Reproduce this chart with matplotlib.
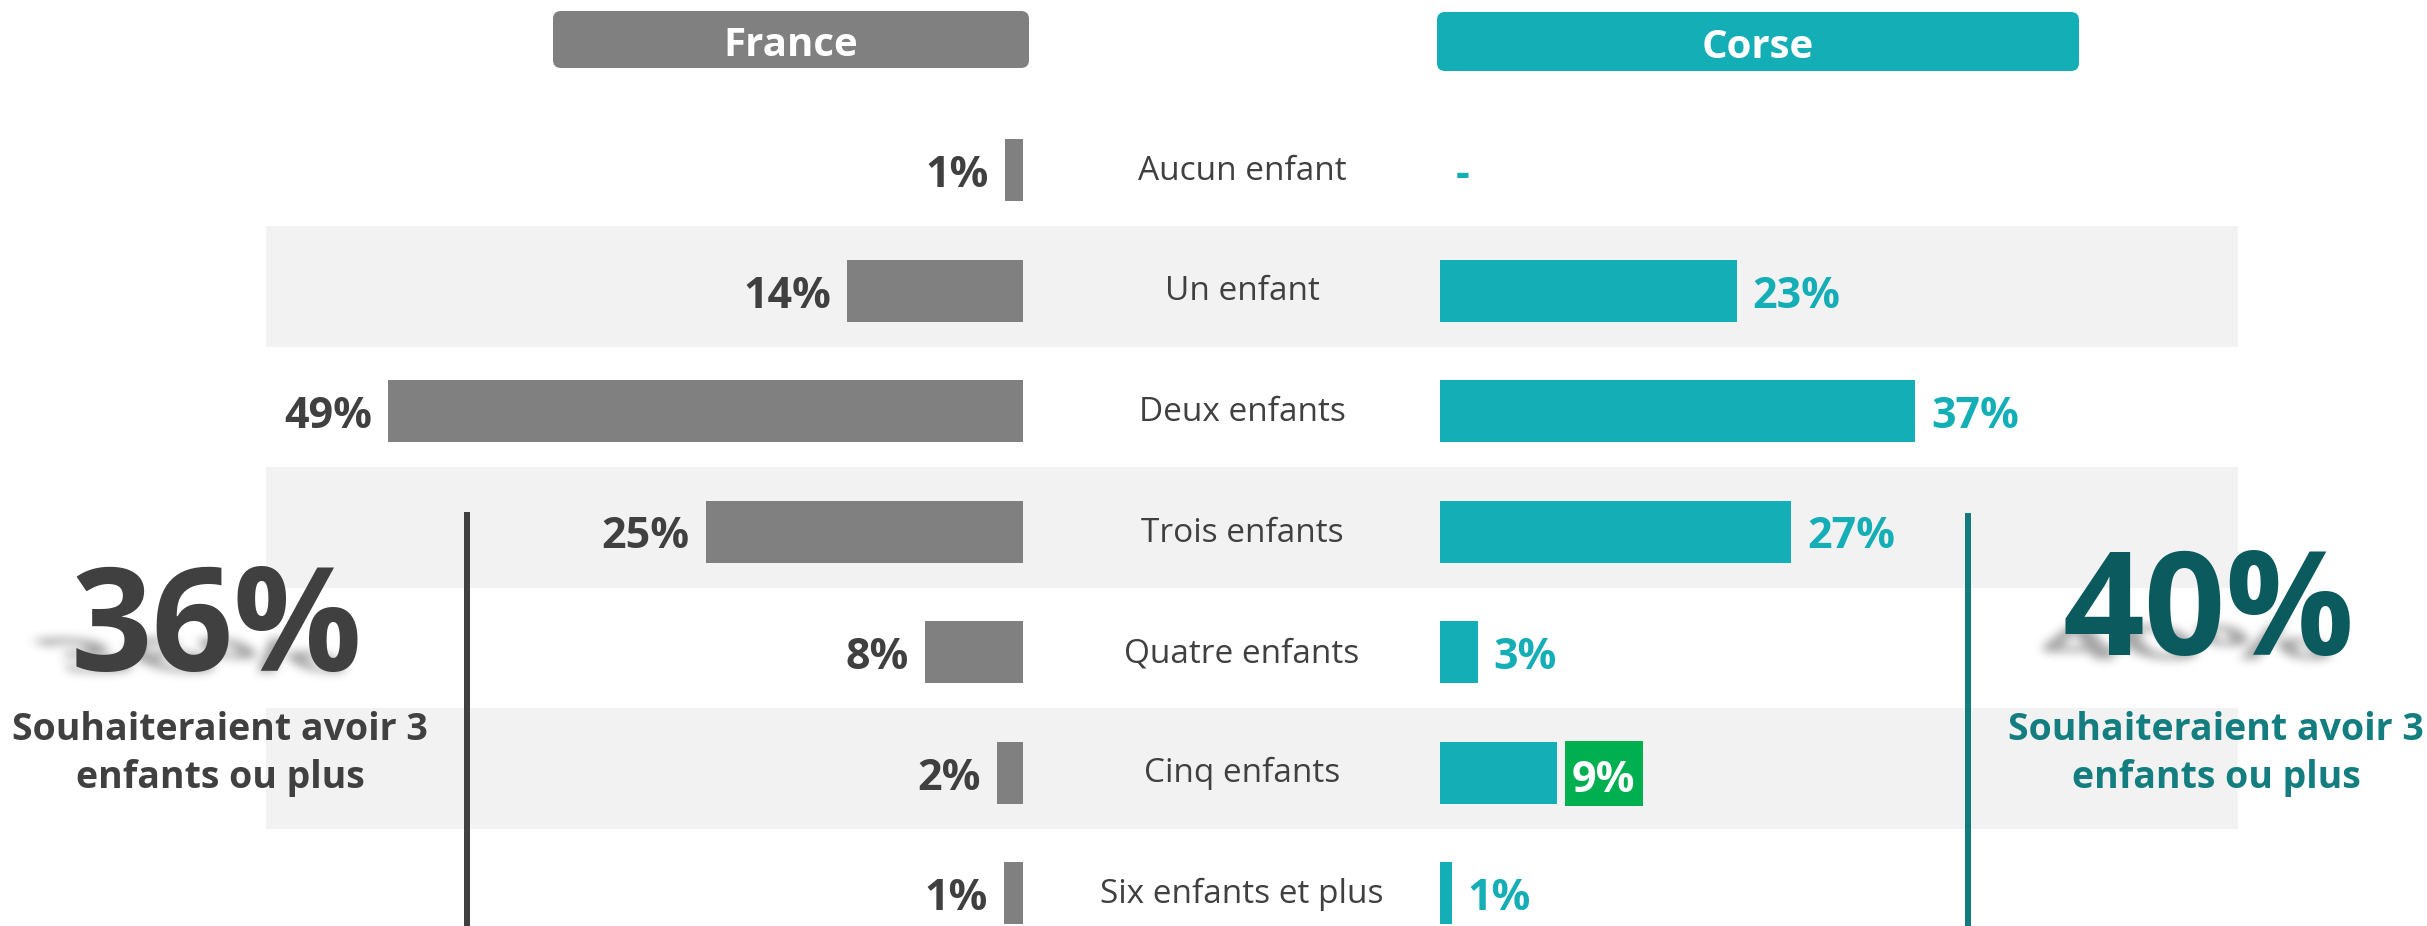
import numpy as np
import matplotlib
matplotlib.use("Agg")
import matplotlib.pyplot as plt
from matplotlib.figure import Figure
from matplotlib.backends.backend_agg import FigureCanvasAgg
from matplotlib.patches import Rectangle, FancyBboxPatch, PathPatch
from matplotlib.textpath import TextPath
from matplotlib.font_manager import FontProperties
from matplotlib.transforms import Affine2D

# ---------------- data ----------------
categories = ["Aucun enfant", "Un enfant", "Deux enfants", "Trois enfants",
              "Quatre enfants", "Cinq enfants", "Six enfants et plus"]
france_values = [1.4, 13.6, 49.0, 24.5, 7.6, 2.0, 1.5]
france_labels = ["1%", "14%", "49%", "25%", "8%", "2%", "1%"]
corse_values = [0.0, 22.9, 36.7, 27.1, 2.9, 9.0, 0.9]
corse_labels = ["-", "23%", "37%", "27%", "3%", "9%", "1%"]
highlight_index = 5
headers = ["France", "Corse"]
summary_france = "36%"
summary_corse = "40%"
summary_lines = ["Souhaiteraient avoir 3", "enfants ou plus"]

# ---------------- style ----------------
plt.rcParams["font.family"] = ["Open Sans", "DejaVu Sans"]
GREY_BAR = "#808080"
TEAL = "#14AEB6"
DARK = "#404040"
DARK_TEAL = "#0B5A5E"
MID_TEAL = "#137D80"
STRIPE = "#F2F2F2"
GREEN = "#00B050"

W, H = 2427, 926
ROW0, ROWH = 170.0, 120.5      # pixel centre of first row, row pitch
PXP = 12.95                    # pixels per percentage point
FR_X0, FR_ZERO = 266, 1023
CO_ZERO, CO_X1 = 1440, 2238
PT = 72 / 100.0

fig = plt.figure(figsize=(W / 100, H / 100), dpi=100)
fig.patch.set_facecolor("white")

bg = fig.add_axes([0, 0, 1, 1])
bg.axis("off")
bg.set_zorder(0)

ylim = ((H - ROW0) / ROWH, -ROW0 / ROWH)
ax_fr = fig.add_axes([FR_X0 / W, 0, (FR_ZERO - FR_X0) / W, 1])
ax_fr.set_xlim((FR_ZERO - FR_X0) / PXP, 0)
ax_co = fig.add_axes([CO_ZERO / W, 0, (CO_X1 - CO_ZERO) / W, 1])
ax_co.set_xlim(0, (CO_X1 - CO_ZERO) / PXP)
for ax in (ax_fr, ax_co):
    ax.set_ylim(*ylim)
    ax.axis("off")
    ax.patch.set_visible(False)
    ax.set_zorder(1)

# stripes
for i in range(len(categories)):
    if i % 2 == 1:
        yc = ROW0 + ROWH * i - 4
        bg.add_patch(Rectangle((FR_X0, yc - ROWH / 2), CO_X1 - FR_X0, ROWH,
                               facecolor=STRIPE, edgecolor="none", zorder=0))

ypos = list(range(len(categories)))
BAR_H = 62 / ROWH
ax_fr.barh(ypos, france_values, height=BAR_H, color=GREY_BAR)
ax_co.barh(ypos, corse_values, height=BAR_H, color=TEAL)

for i, (v, lab) in enumerate(zip(france_values, france_labels)):
    ax_fr.annotate(lab, xy=(v, i), xytext=(-16 * PT, -17 * PT), textcoords="offset points",
                   ha="right", va="baseline", fontsize=31, fontweight="bold", color=DARK)

for i, (v, lab) in enumerate(zip(corse_values, corse_labels)):
    if i == highlight_index:
        x0 = v + 8 / PXP
        bw = 78 / PXP
        ax_co.add_patch(Rectangle((x0, i + (1 - 32.5) / ROWH), bw, 65 / ROWH,
                                  facecolor=GREEN, edgecolor="none", zorder=3))
        ax_co.annotate(lab, xy=(x0 + bw / 2, i), xytext=(0, -19.5 * PT), textcoords="offset points",
                       ha="center", va="baseline", fontsize=31, fontweight="bold",
                       color="white", zorder=4)
    else:
        ax_co.annotate(lab, xy=(v, i), xytext=(16 * PT, -17 * PT), textcoords="offset points",
                       ha="left", va="baseline", fontsize=31, fontweight="bold", color=TEAL)

for i, cat in enumerate(categories):
    bg.text(1242, ROW0 + ROWH * i + 10, cat, ha="center", va="baseline",
            fontsize=24, color=DARK, zorder=2)

# header boxes
bg.add_patch(FancyBboxPatch((553, 11), 476, 57, boxstyle="round,pad=0,rounding_size=8",
                            facecolor=GREY_BAR, edgecolor="none", zorder=2))
bg.add_patch(FancyBboxPatch((1437, 12), 642, 59, boxstyle="round,pad=0,rounding_size=8",
                            facecolor="#14AFB6", edgecolor="none", zorder=2))
bg.text(791, 56, headers[0], ha="center", va="baseline", fontsize=29,
        fontweight="bold", color="white", zorder=3)
bg.text(1758, 58, headers[1], ha="center", va="baseline", fontsize=29,
        fontweight="bold", color="white", zorder=3)

# vertical lines
bg.plot([467, 467], [512, H], color=DARK, lw=6 * PT, solid_capstyle="butt", zorder=2)
bg.plot([1968, 1968], [513, H], color="#137A7D", lw=6 * PT, solid_capstyle="butt", zorder=2)


def _box_blur(a, r):
    k = 2 * r + 1
    for axis in (0, 1):
        pad = [(0, 0), (0, 0)]
        pad[axis] = (r + 1, r)
        c = np.cumsum(np.pad(a, pad, mode="constant"), axis=axis)
        if axis == 0:
            a = (c[k:, :] - c[:-k, :]) / k
        else:
            a = (c[:, k:] - c[:, :-k]) / k
    return a


def shadow(txt, xc, base, size_pt, squash, skew, dy, alpha=0.6, blur=4):
    fp = FontProperties(family="Open Sans", weight="bold")
    path = TextPath((0, 0), txt, size=size_pt / PT, prop=fp)
    ext = path.get_extents()
    tr = (Affine2D().translate(-(ext.x0 + ext.x1) / 2, 0)
          .scale(1, squash)
          + Affine2D.from_values(1, 0, -skew, 1, 0, 0)
          + Affine2D().scale(1, -1).translate(xc, base + dy))
    p = tr.transform_path(path)
    e = p.get_extents()
    m = 20
    left, top = int(e.x0) - m, int(e.y0) - m
    wb, hb = int(e.width) + 2 * m, int(e.height) + 2 * m
    f2 = Figure(figsize=(wb / 100, hb / 100), dpi=100)
    FigureCanvasAgg(f2)
    a2 = f2.add_axes([0, 0, 1, 1])
    a2.set_xlim(left, left + wb)
    a2.set_ylim(top + hb, top)
    a2.axis("off")
    a2.add_patch(PathPatch(p, facecolor="black", edgecolor="none"))
    f2.canvas.draw()
    arr = np.asarray(f2.canvas.buffer_rgba())[..., 0].astype(float)
    dark = 1 - arr / 255.0
    for _ in range(3):
        dark = _box_blur(dark, blur)
    rgba = np.zeros(dark.shape + (4,))
    rgba[..., :3] = 0.42
    rgba[..., 3] = np.clip(dark * alpha, 0, 1)
    bg.imshow(rgba, extent=(left, left + wb, top + hb, top), origin="upper",
              aspect="auto", interpolation="bilinear", zorder=2)


shadow(summary_france, 213, 672, 103, 0.33, 1.3, 0)
shadow(summary_corse, 2194, 657, 103, 0.33, 0.8, 2)

bg.text(217, 671, summary_france, ha="center", va="baseline", fontsize=103,
        fontweight="bold", color=DARK, zorder=3)
bg.text(2209, 655, summary_corse, ha="center", va="baseline", fontsize=103,
        fontweight="bold", color=DARK_TEAL, zorder=3)

for k, line in enumerate(summary_lines):
    bg.text(220, 740 + 48 * k, line, ha="center", va="baseline", fontsize=27,
            fontweight="bold", color=DARK, zorder=3)
    bg.text(2216, 740 + 48 * k, line, ha="center", va="baseline", fontsize=27,
            fontweight="bold", color=MID_TEAL, zorder=3)

bg.set_xlim(0, W)
bg.set_ylim(H, 0)

fig.savefig("out.png", dpi=100, facecolor="white")
